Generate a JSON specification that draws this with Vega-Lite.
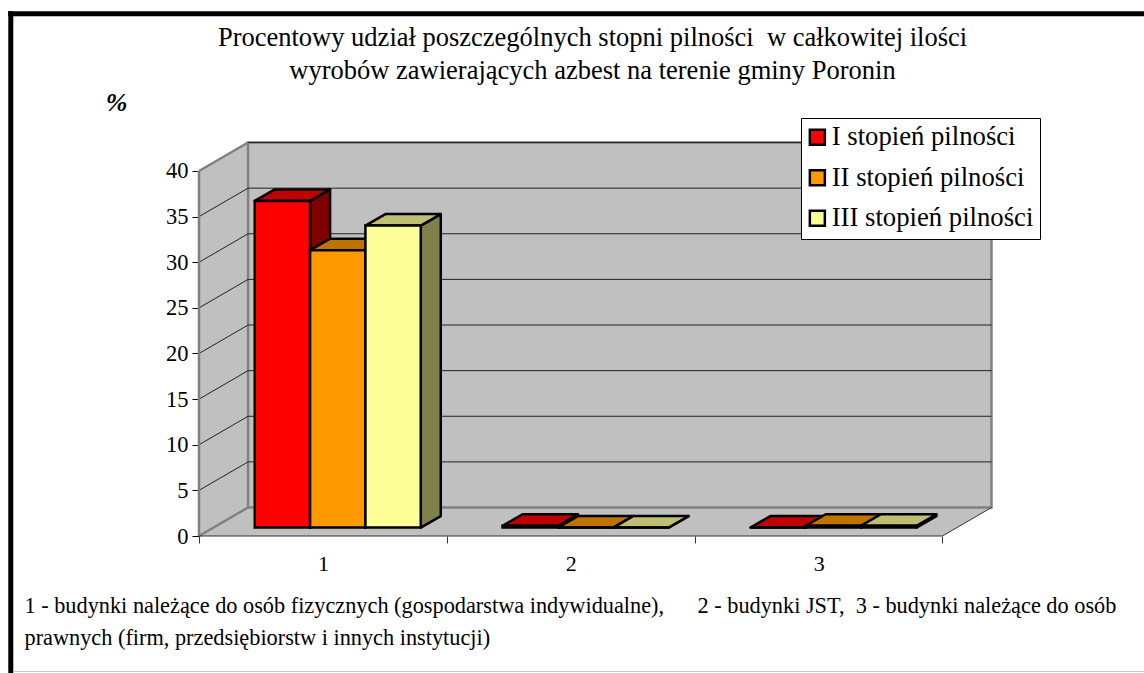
{"$schema":"https://vega.github.io/schema/vega-lite/v6.json","width":793,"height":394,"autosize":{"type":"none"},"padding":{"left":199,"top":142,"right":152,"bottom":137},"background":"white","config":{"view":{"stroke":null},"font":"Liberation Serif"},
"title":{"text":["Procentowy udział poszczególnych stopni pilności\u00a0 w całkowitej ilości","wyrobów zawierających azbest na terenie gminy Poronin"],"font":"Liberation Serif","fontSize":26.5,"fontWeight":"normal","color":"black","lineHeight":33,"anchor":"middle","frame":"group","dx":-3,"offset":-76},
"datasets":{"bars":[
{"category":1,"series":"I stopień pilności","value":35.8},{"category":1,"series":"II stopień pilności","value":30.4},{"category":1,"series":"III stopień pilności","value":33.1},
{"category":2,"series":"I stopień pilności","value":0.2},{"category":2,"series":"II stopień pilności","value":0},{"category":2,"series":"III stopień pilności","value":0},
{"category":3,"series":"I stopień pilności","value":0},{"category":3,"series":"II stopień pilności","value":0.2},{"category":3,"series":"III stopień pilności","value":0.2}],
"ticks":[{"v":5},{"v":10},{"v":15},{"v":20},{"v":25},{"v":30},{"v":35},{"v":40}],"one":[{"id":1}]},
"resolve":{"scale":{"color":"independent"}},
"layer":[
{"data":{"values":[{"x":0,"lo":0,"hi":40},{"x":0.198,"lo":3.12,"hi":43.12}]},"mark":{"type":"area","orient":"vertical","fill":"#C0C0C0"},"encoding":{
"x":{"field":"x","type":"quantitative","scale":{"domain":[0,3.2],"nice":false,"zero":false},"title":["1 - budynki należące do osób fizycznych (gospodarstwa indywidualne),\u00a0\u00a0\u00a0\u00a0\u00a0 2 - budynki JST,\u00a0 3 - budynki należące do osób","prawnych (firm, przedsiębiorstw i innych instytucji)"],
"axis":{"values":[0,1,2,3],"labelExpr":"datum.value<3?datum.value+1:''","labelOffset":124,"labelFlush":false,"labelFont":"Liberation Serif","labelFontSize":22,"labelColor":"black","labelPadding":10,"labelAngle":0,"grid":false,"domain":false,"tickColor":"#333333","tickSize":7,"tickWidth":1,"titleFont":"Liberation Serif","titleFontSize":22.3,"titleFontWeight":"normal","titleColor":"black","titleLineHeight":32,"titleAnchor":"start","titleAlign":"left","titleX":-175,"titleY":76,"titleBaseline":"alphabetic"}},
"y":{"field":"lo","type":"quantitative","scale":{"domain":[0,43.178],"nice":false,"zero":false},"title":"%",
"axis":{"values":[0,5,10,15,20,25,30,35,40],"labelFont":"Liberation Serif","labelFontSize":22.5,"labelColor":"black","labelPadding":4,"grid":false,"domain":false,"tickColor":"black","tickSize":7,"tickWidth":1,"titleFont":"Liberation Serif","titleFontSize":26,"titleFontStyle":"italic","titleFontWeight":"bold","titleColor":"black","titleAngle":0,"titleAlign":"center","titleBaseline":"middle","titleX":-83,"titleY":-40}},
"y2":{"field":"hi"}}},
{"data":{"values":[{"x":0,"lo":0,"hi":0},{"x":0.198,"lo":0,"hi":3.12},{"x":3,"lo":0,"hi":3.12},{"x":3.198,"lo":3.12,"hi":3.12}]},"mark":{"type":"area","orient":"vertical","fill":"#C0C0C0"},"encoding":{"x":{"field":"x","type":"quantitative"},"y":{"field":"lo","type":"quantitative"},"y2":{"field":"hi"}}},
{"data":{"values":[{"x":0.198,"x2":3.198,"lo":3.12,"hi":43.12}]},"mark":{"type":"rect","fill":"#C0C0C0","stroke":"#808080","strokeWidth":2.5},"encoding":{"x":{"field":"x","type":"quantitative"},"x2":{"field":"x2"},"y":{"field":"lo","type":"quantitative"},"y2":{"field":"hi"}}},
{"data":{"name":"ticks"},"transform":[{"calculate":"datum.v+3.12","as":"b"}],"mark":{"type":"rule","color":"#222222","strokeWidth":1},"encoding":{"x":{"datum":0.198},"x2":{"datum":3.198},"y":{"field":"b","type":"quantitative"}}},
{"data":{"name":"ticks"},"transform":[{"calculate":"datum.v+3.12","as":"b"}],"mark":{"type":"rule","color":"#222222","strokeWidth":1},"encoding":{"x":{"datum":0},"x2":{"datum":0.198},"y":{"field":"v","type":"quantitative"},"y2":{"field":"b"}}},
{"mark":{"type":"rule","color":"#808080","strokeWidth":2.5},"data":{"values":[{"x":0,"x2":0,"a":0,"b":40},{"x":0,"x2":0.198,"a":40,"b":43.12},{"x":0,"x2":0.198,"a":0,"b":3.12}]},"encoding":{"x":{"field":"x","type":"quantitative"},"x2":{"field":"x2"},"y":{"field":"a","type":"quantitative"},"y2":{"field":"b"}}},
{"mark":{"type":"rule","color":"#333333","strokeWidth":1},"data":{"values":[{"x":0,"x2":3,"a":0,"b":0},{"x":3,"x2":3.198,"a":0,"b":3.12}]},"encoding":{"x":{"field":"x","type":"quantitative"},"x2":{"field":"x2"},"y":{"field":"a","type":"quantitative"},"y2":{"field":"b"}}},
{"data":{"name":"bars"},"transform":[{"calculate":"datum.category-1+0.225+indexof(['I stopień pilności','II stopień pilności','III stopień pilności'],datum.series)*0.2233","as":"x0"},{"calculate":"datum.x0+0.2233","as":"x1"},{"calculate":"0.92+datum.value","as":"top"},{"calculate":"[0,1]","as":"k"},{"flatten":["k"]},{"calculate":"datum.x1+datum.k*0.0807","as":"sx"},{"calculate":"0.92+datum.k*1.26","as":"sy"},{"calculate":"datum.top+datum.k*1.26","as":"sy2"}],
"mark":{"type":"area","orient":"vertical","stroke":"black","strokeWidth":2.5,"strokeJoin":"round"},"encoding":{"x":{"field":"sx","type":"quantitative"},"y":{"field":"sy","type":"quantitative"},"y2":{"field":"sy2"},"detail":{"field":"category"},"color":{"field":"series","type":"nominal","legend":null,"scale":{"domain":["I stopień pilności","II stopień pilności","III stopień pilności"],"range":["#800000","#804D00","#80804D"]}}}},
{"data":{"name":"bars"},"transform":[{"calculate":"datum.category-1+0.225+indexof(['I stopień pilności','II stopień pilności','III stopień pilności'],datum.series)*0.2233","as":"x0"},{"calculate":"datum.x0+0.2233","as":"x1"},{"calculate":"0.92+datum.value","as":"top"},{"calculate":"[0,1,2,3]","as":"k"},{"flatten":["k"]},{"calculate":"datum.k==0?datum.x0:datum.k==1?datum.x0+0.0807:datum.k==2?datum.x1:datum.x1+0.0807","as":"tx"},{"calculate":"datum.k==3?datum.top+1.26:datum.top","as":"ty"},{"calculate":"datum.k==0?datum.top:datum.top+1.26","as":"ty2"}],
"mark":{"type":"area","orient":"vertical","stroke":"black","strokeWidth":2.5,"strokeJoin":"round"},"encoding":{"x":{"field":"tx","type":"quantitative"},"y":{"field":"ty","type":"quantitative"},"y2":{"field":"ty2"},"detail":{"field":"category"},"color":{"field":"series","type":"nominal","legend":null,"scale":{"domain":["I stopień pilności","II stopień pilności","III stopień pilności"],"range":["#BF0000","#BF7300","#BFBF73"]}}}},
{"data":{"name":"bars"},"transform":[{"calculate":"datum.category-1+0.225+indexof(['I stopień pilności','II stopień pilności','III stopień pilności'],datum.series)*0.2233","as":"x0"},{"calculate":"datum.x0+0.2233","as":"x1"},{"calculate":"0.92+datum.value","as":"top"},{"calculate":"0.92","as":"base"}],
"mark":{"type":"rect","stroke":"black","strokeWidth":2.5},"encoding":{"x":{"field":"x0","type":"quantitative"},"x2":{"field":"x1"},"y":{"field":"base","type":"quantitative"},"y2":{"field":"top"},"color":{"field":"series","type":"nominal","scale":{"domain":["I stopień pilności","II stopień pilności","III stopień pilności"],"range":["#FF0000","#FF9900","#FFFF99"]},"legend":{"title":null,"orient":"none","legendX":602,"legendY":-24,"fillColor":"white","strokeColor":"black","padding":6,"symbolType":"square","symbolSize":225,"symbolOffset":-3,"symbolStrokeColor":"black","symbolStrokeWidth":2.5,"symbolOpacity":1,"labelFont":"Liberation Serif","labelFontSize":26.7,"labelColor":"black","labelLimit":300,"labelOffset":1,"rowPadding":12.5}}}},
{"data":{"name":"one"},"mark":{"type":"rule","color":"black","strokeWidth":5},"encoding":{"x":{"datum":-0.7595},"y":{"datum":57.5},"y2":{"datum":-15}}},
{"data":{"name":"one"},"mark":{"type":"rule","color":"black","strokeWidth":5},"encoding":{"x":{"datum":-0.77},"x2":{"datum":3.82},"y":{"datum":57.24}}},
{"data":{"name":"one"},"mark":{"type":"rule","color":"#C8C8C8","strokeWidth":1},"encoding":{"x":{"datum":-0.75},"x2":{"datum":3.82},"y":{"datum":-14.85}}}
]}
